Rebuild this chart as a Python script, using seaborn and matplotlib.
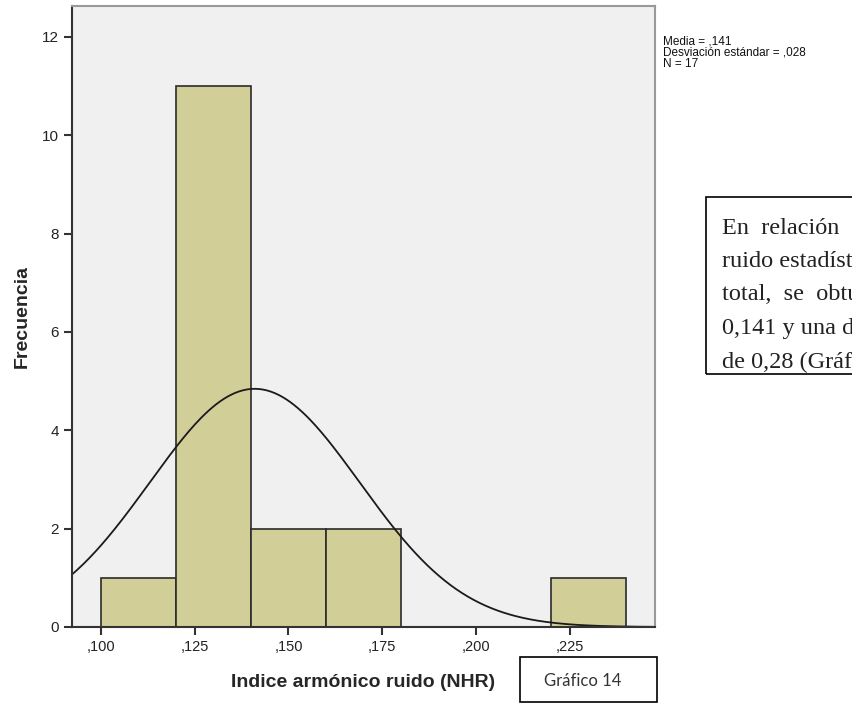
import numpy as np
import pandas as pd
import matplotlib
matplotlib.use("Agg")
import matplotlib.pyplot as plt
import seaborn as sns

# bin edges and counts
bin_left = [0.100, 0.120, 0.140, 0.160, 0.220]
counts = [1, 11, 2, 2, 1]
bin_edges = [0.100, 0.120, 0.140, 0.160, 0.180, 0.200, 0.220, 0.240]
media = 0.141
desv = 0.028
n_total = 17
xticks = [0.100, 0.125, 0.150, 0.175, 0.200, 0.225]
xtick_labels = [",100", ",125", ",150", ",175", ",200", ",225"]
yticks = [0, 2, 4, 6, 8, 10, 12]
stats_lineas = ["Media = ,141", "Desviación estándar = ,028", "N = 17"]
texto_lineas = ["En  relación  al  índice  armónico",
                "ruido estadístico en el total",
                "total,  se  obtuvo  una  media",
                "0,141 y una desviación estándar",
                "de 0,28 (Gráfico 14)."]

df = pd.DataFrame({"nhr": bin_left, "n": counts})

sns.set_style("white")
plt.rcParams["font.family"] = ["Liberation Sans", "DejaVu Sans"]

fig = plt.figure(figsize=(8.53, 7.04), dpi=100)
ax = fig.add_axes([72 / 853, 1 - 627 / 704, (655 - 72) / 853, (627 - 6) / 704])
ax.set_facecolor("#f0f0f0")

sns.histplot(data=df, x="nhr", weights="n", bins=bin_edges, ax=ax,
             color="#d2ce98", alpha=1, edgecolor="#2b2b2b", linewidth=1.2)

xs = np.linspace(0.0923, 0.2477, 300)
ys = n_total * 0.02 / (desv * np.sqrt(2 * np.pi)) * np.exp(-0.5 * ((xs - media) / desv) ** 2)
sns.lineplot(x=xs, y=ys, ax=ax, color="#1a1a1a", linewidth=1.3)

ax.set_xlim(0.0923, 0.2477)
ax.set_ylim(0, 12.63)
ax.set_xticks(xticks)
ax.set_xticklabels(xtick_labels, fontsize=10.5)
ax.set_yticks(yticks)
ax.set_yticklabels([str(v) for v in yticks], fontsize=11)
ax.tick_params(axis="both", direction="out", length=6, width=1.5, color="#333333",
               labelcolor="#222222", bottom=True, left=True)
ax.set_xlabel("Indice armónico ruido (NHR)", fontsize=14, fontweight="bold", labelpad=14)
ax.set_ylabel("Frecuencia", fontsize=14, fontweight="bold", labelpad=8)
for s in ["left", "bottom"]:
    ax.spines[s].set_color("#333333")
    ax.spines[s].set_linewidth(1.5)
for s in ["top", "right"]:
    ax.spines[s].set_color("#999999")
    ax.spines[s].set_linewidth(1.5)

# estadísticos
for i, linea in enumerate(stats_lineas):
    fig.text(663 / 853, 1 - (41 + i * 11.5) / 704, linea,
             fontsize=8.5, va="center", ha="left", color="#111111")

# cuadro de texto a la derecha (recortado por el borde)
fig.patches.append(plt.Rectangle((706 / 853, 1 - 374 / 704), 0.3, 177 / 704,
                                 transform=fig.transFigure, fill=False,
                                 edgecolor="black", linewidth=1.2))
for i, linea in enumerate(texto_lineas):
    fig.text(722 / 853, 1 - (228 + i * 33.5) / 704, linea,
             family=["Liberation Serif", "DejaVu Serif"], fontsize=17.5,
             va="center", ha="left", color="#222222")

fig.patches.append(plt.Rectangle((520 / 853, 1 - 702 / 704), 137 / 853, 45 / 704,
                                 transform=fig.transFigure, fill=False,
                                 edgecolor="black", linewidth=1.2))
fig.text(583 / 853, 1 - 681 / 704, "Gráfico 14", fontsize=12,
         ha="center", va="center", color="#333333",
         family=["Lato", "DejaVu Sans"])

fig.savefig("out.png", dpi=100)
